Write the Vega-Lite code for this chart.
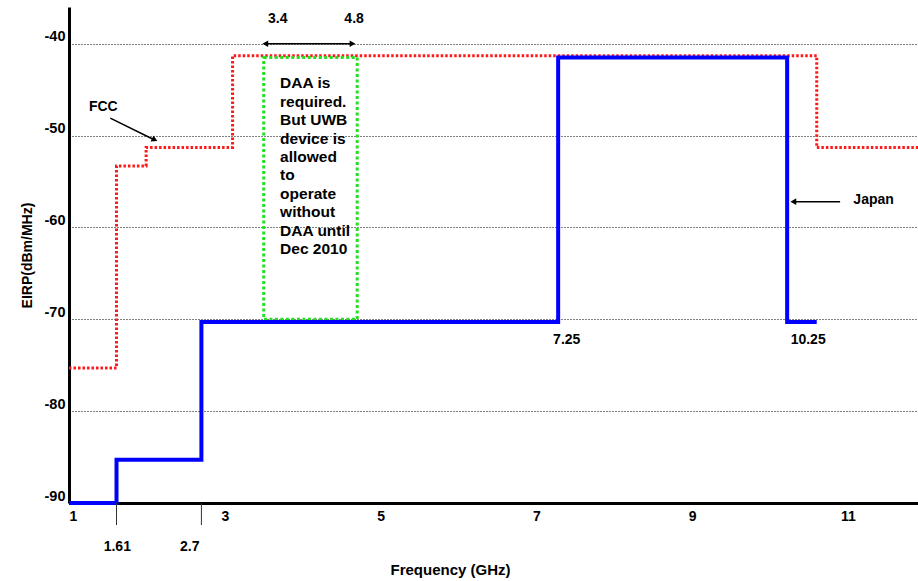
{
  "$schema": "https://vega.github.io/schema/vega-lite/v6.json",
  "width": 849,
  "height": 496,
  "autosize": {"type": "none"},
  "padding": {"left": 69, "top": 7, "right": 0, "bottom": 78},
  "background": "white",
  "config": {"view": {"stroke": null}, "font": "Liberation Sans"},
  "datasets": {
    "fcc": [
      {"f": 1, "eirp": -75.3},
      {"f": 1.61, "eirp": -53.3},
      {"f": 1.99, "eirp": -51.3},
      {"f": 3.1, "eirp": -41.3},
      {"f": 10.6, "eirp": -51.3},
      {"f": 11.9, "eirp": -51.3}
    ],
    "japan": [
      {"f": 1, "eirp": -90},
      {"f": 1.61, "eirp": -85.3},
      {"f": 2.7, "eirp": -70.3},
      {"f": 7.28, "eirp": -41.5},
      {"f": 10.22, "eirp": -70.3},
      {"f": 10.6, "eirp": -70.3}
    ],
    "daa": [{"f1": 3.5, "f2": 4.7, "e1": -70, "e2": -41.5}],
    "arrows": [
      {"x1": 3.52, "x2": 4.64, "y1": -40, "y2": -40},
      {"x1": 1.53, "x2": 2.08, "y1": -48.1, "y2": -50.4},
      {"x1": 10.9, "x2": 10.32, "y1": -57.2, "y2": -57.2}
    ],
    "headsLeft": [{"x": 3.52, "y": -40}, {"x": 10.3, "y": -57.2}],
    "headsRight": [{"x": 4.64, "y": -40}],
    "headsFcc": [{"x": 2.1, "y": -50.45}],
    "ticks": [
      {"x": 1.61, "y1": -90, "y2": -92.4},
      {"x": 2.7, "y1": -90, "y2": -92.4}
    ],
    "labels": [
      {"x": 1.44, "y": -46.9, "t": "FCC"},
      {"x": 11.33, "y": -57.0, "t": "Japan"},
      {"x": 3.68, "y": -37.3, "t": "3.4"},
      {"x": 4.66, "y": -37.3, "t": "4.8"},
      {"x": 7.39, "y": -72.25, "t": "7.25"},
      {"x": 10.49, "y": -72.25, "t": "10.25"},
      {"x": 1.62, "y": -94.8, "t": "1.61"},
      {"x": 2.55, "y": -94.8, "t": "2.7"}
    ],
    "note": [
      {"x": 3.71, "y": -43.55, "t": "DAA is\nrequired.\nBut UWB\ndevice is\nallowed\nto\noperate\nwithout\nDAA until\nDec 2010"}
    ]
  },
  "layer": [
    {
      "data": {"name": "fcc"},
      "mark": {"type": "line", "interpolate": "step-after", "color": "#ff1a1a", "strokeWidth": 3, "strokeDash": [2.5, 2]},
      "encoding": {
        "x": {
          "field": "f", "type": "quantitative",
          "scale": {"domain": [1, 11.9], "nice": false, "zero": false},
          "axis": {
            "title": "Frequency (GHz)",
            "values": [1, 3, 5, 7, 9, 11],
            "format": "d",
            "ticks": false,
            "grid": false,
            "domainColor": "black",
            "domainWidth": 3,
            "labelFont": "Liberation Sans",
            "labelFontWeight": "bold",
            "labelFontSize": 14,
            "labelColor": "black",
            "labelPadding": 6,
            "labelFlush": true,
            "titleFont": "Liberation Sans",
            "titleFontSize": 15,
            "titleFontWeight": "bold",
            "titleColor": "black",
            "titleX": 381,
            "titleY": 66,
            "titleBaseline": "middle"
          }
        },
        "y": {
          "field": "eirp", "type": "quantitative",
          "scale": {"domain": [-90, -36], "nice": false, "zero": false},
          "axis": {
            "title": "EIRP(dBm/MHz)",
            "values": [-90, -80, -70, -60, -50, -40],
            "labelExpr": "'' + datum.value",
            "ticks": false,
            "grid": true,
            "gridColor": "black",
            "gridDash": [1, 2],
            "gridWidth": 1,
            "domainColor": "black",
            "domainWidth": 3,
            "labelFont": "Liberation Sans",
            "labelFontWeight": "bold",
            "labelFontSize": 14.5,
            "labelColor": "black",
            "labelBaseline": "bottom",
            "labelPadding": 4,
            "titleFont": "Liberation Sans",
            "titleFontSize": 14,
            "titleFontWeight": "bold",
            "titleColor": "black",
            "titlePadding": 10
          }
        }
      }
    },
    {
      "data": {"name": "daa"},
      "mark": {"type": "rect", "fill": null, "fillOpacity": 0, "stroke": "#22e022", "strokeWidth": 3, "strokeDash": [3, 2.5]},
      "encoding": {
        "x": {"field": "f1", "type": "quantitative"},
        "x2": {"field": "f2"},
        "y": {"field": "e1", "type": "quantitative"},
        "y2": {"field": "e2"}
      }
    },
    {
      "data": {"name": "japan"},
      "mark": {"type": "line", "interpolate": "step-after", "color": "#0000ff", "strokeWidth": 4},
      "encoding": {
        "x": {"field": "f", "type": "quantitative"},
        "y": {"field": "eirp", "type": "quantitative"}
      }
    },
    {
      "data": {"name": "arrows"},
      "mark": {"type": "rule", "color": "black", "strokeWidth": 1.5},
      "encoding": {
        "x": {"field": "x1", "type": "quantitative"},
        "x2": {"field": "x2"},
        "y": {"field": "y1", "type": "quantitative"},
        "y2": {"field": "y2"}
      }
    },
    {
      "data": {"name": "ticks"},
      "mark": {"type": "rule", "color": "#333333", "strokeWidth": 1},
      "encoding": {
        "x": {"field": "x", "type": "quantitative"},
        "y": {"field": "y1", "type": "quantitative"},
        "y2": {"field": "y2"}
      }
    },
    {
      "data": {"name": "headsLeft"},
      "mark": {"type": "point", "shape": "triangle-up", "angle": 270, "filled": true, "color": "black", "size": 45, "opacity": 1},
      "encoding": {
        "x": {"field": "x", "type": "quantitative"},
        "y": {"field": "y", "type": "quantitative"}
      }
    },
    {
      "data": {"name": "headsRight"},
      "mark": {"type": "point", "shape": "triangle-up", "angle": 90, "filled": true, "color": "black", "size": 45, "opacity": 1},
      "encoding": {
        "x": {"field": "x", "type": "quantitative"},
        "y": {"field": "y", "type": "quantitative"}
      }
    },
    {
      "data": {"name": "headsFcc"},
      "mark": {"type": "point", "shape": "triangle-up", "angle": 116, "filled": true, "color": "black", "size": 45, "opacity": 1},
      "encoding": {
        "x": {"field": "x", "type": "quantitative"},
        "y": {"field": "y", "type": "quantitative"}
      }
    },
    {
      "data": {"name": "labels"},
      "mark": {"type": "text", "font": "Liberation Sans", "fontWeight": "bold", "fontSize": 14, "color": "black", "align": "center", "baseline": "middle"},
      "encoding": {
        "x": {"field": "x", "type": "quantitative"},
        "y": {"field": "y", "type": "quantitative"},
        "text": {"field": "t"}
      }
    },
    {
      "data": {"name": "note"},
      "mark": {"type": "text", "font": "Liberation Sans", "fontWeight": "bold", "fontSize": 15.5, "color": "black", "align": "left", "baseline": "top", "lineBreak": "\n", "lineHeight": 18.4},
      "encoding": {
        "x": {"field": "x", "type": "quantitative"},
        "y": {"field": "y", "type": "quantitative"},
        "text": {"field": "t"}
      }
    },
    {
      "mark": {"type": "rule", "color": "black", "strokeWidth": 3},
      "encoding": {"y": {"datum": -36}}
    }
  ]
}
